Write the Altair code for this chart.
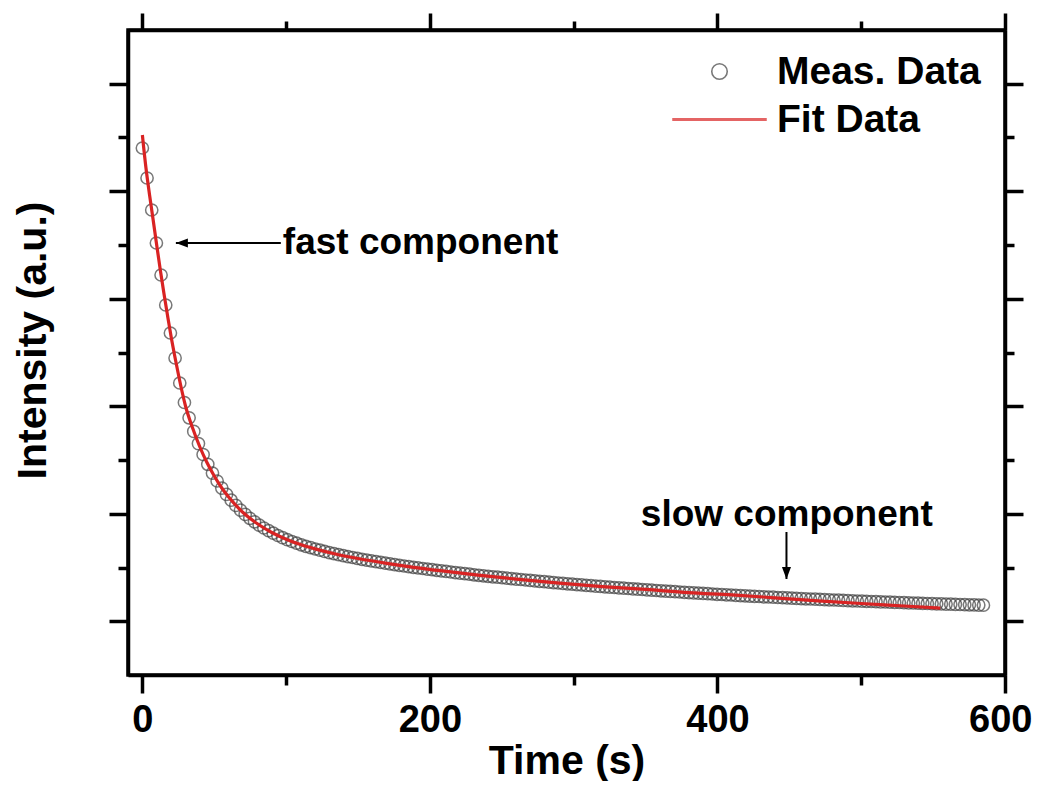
import altair as alt
import pandas as pd

FONT = "Liberation Sans"

# ---- measured data (sampled every SAMPLE_STEP seconds), intensity in a.u. ----
SAMPLE_STEP = 3.25
meas_intensity = [
    527, 497, 465, 432, 400, 370, 342, 317, 292, 272.5,
    257.2, 243.6, 231.4, 220.5, 210.7, 201.9, 194.0, 186.9, 180.6, 174.8,
    169.6, 164.9, 160.6, 156.7, 153.2, 149.9, 147.0, 144.3, 141.8, 139.5,
    137.3, 135.4, 133.5, 131.8, 130.2, 128.7, 127.3, 126.0, 124.8, 123.6,
    122.4, 121.3, 120.3, 119.3, 118.4, 117.5, 116.6, 115.7, 114.9, 114.1,
    113.3, 112.6, 111.8, 111.1, 110.4, 109.7, 109.0, 108.4, 107.7, 107.1,
    106.5, 105.9, 105.3, 104.7, 104.1, 103.6, 103.0, 102.4, 101.9, 101.4,
    100.8, 100.2, 99.7, 99.2, 98.7, 98.2, 97.8, 97.3, 96.8, 96.4,
    95.9, 95.5, 95.0, 94.6, 94.1, 93.7, 93.3, 92.9, 92.4, 92.0,
    91.6, 91.2, 90.8, 90.4, 90.1, 89.7, 89.3, 88.9, 88.6, 88.2,
    87.8, 87.5, 87.1, 86.8, 86.5, 86.1, 85.8, 85.5, 85.1, 84.8,
    84.5, 84.2, 83.9, 83.6, 83.3, 83.0, 82.7, 82.4, 82.1, 81.8,
    81.6, 81.3, 81.0, 80.7, 80.5, 80.2, 80.0, 79.7, 79.4, 79.2,
    78.9, 78.7, 78.5, 78.2, 78.0, 77.8, 77.5, 77.3, 77.1, 76.9,
    76.6, 76.4, 76.2, 76.0, 75.8, 75.6, 75.4, 75.2, 75.0, 74.8,
    74.6, 74.4, 74.2, 74.0, 73.9, 73.7, 73.5, 73.3, 73.1, 73.0,
    72.8, 72.6, 72.5, 72.3, 72.1, 72.0, 71.8, 71.7, 71.5, 71.4,
    71.2, 71.1, 70.9, 70.8, 70.6, 70.5, 70.3, 70.2, 70.1, 69.9,
    69.8,
]
meas_time = [i * SAMPLE_STEP for i in range(len(meas_intensity))]

# ---- fit curve ----
fit_time = [0, 2.5, 5, 7.5, 10, 12.5, 15, 17.5, 20, 22.5, 25, 27.5, 30, 35, 40,
            45, 50, 55, 60, 70, 80, 90, 100, 110, 120, 135, 150, 170, 190, 210,
            235, 260, 290, 320, 350, 380, 410, 440, 470, 500, 530, 555]
fit_intensity = [540, 507, 480, 455, 429.5, 404.8, 381.4, 359.4, 338.2, 319, 301,
                 284, 269, 246.7, 228, 212.2, 199, 187.5, 177.9, 162.5, 151.2,
                 142.5, 135.8, 130.4, 126.1, 120.8, 116.5, 111.6, 107.4, 103.8,
                 99.6, 95.9, 91.9, 88.4, 85.6, 82.4, 80.1, 77.2, 74.2, 71.5, 69.0,
                 66.8]

series_names = ["Meas. Data", "Fit Data"]
x_tick_values = [0, 100, 200, 300, 400, 500, 600]
y_tick_values = [53.75, 107.5, 161.25, 215, 268.75, 322.5, 376.25, 430, 483.75,
                 537.5, 591.25]

# annotations
fast_label = ["fast component"]
fast_label_pos = [(97.7, 432)]
fast_arrow = [(96.3, 23.3, 432)]          # x from, x to (tip), y
slow_label = ["slow component"]
slow_label_pos = [(448.2, 160)]
slow_arrow = [(448, 143, 96)]             # x, y from, y to (tip)

df_meas = pd.DataFrame({"time": meas_time, "intensity": meas_intensity,
                        "series": series_names[0]})
df_fit = pd.DataFrame({"time": fit_time, "intensity": fit_intensity})

x_scale = alt.Scale(domain=[-10, 600], nice=False, zero=False)
y_scale = alt.Scale(domain=[0, 645], nice=False, zero=False)

common_axis = dict(tickColor="black", tickWidth=3.5, domainColor="black",
                   domainWidth=3.5, grid=False)

x_bottom = alt.Axis(
    orient="bottom", values=x_tick_values, title="Time (s)",
    labelExpr="datum.value % 200 === 0 ? datum.label : ''",
    tickSize={"condition": {"test": "datum.value % 200 === 0", "value": 18}, "value": 10},
    labelFont=FONT, labelFontSize=38, labelFontWeight="bold", labelColor="black",
    labelPadding=8, labelFlush=1, labelFlushOffset=27, labelOverlap=False,
    titleFont=FONT, titleFontSize=41, titleFontWeight="bold", titleColor="black",
    titlePadding=2, **common_axis)
x_top = alt.Axis(
    orient="top", values=x_tick_values, title=None, labels=False,
    tickSize={"condition": {"test": "datum.value % 200 === 0", "value": 17}, "value": 9},
    **common_axis)
y_left = alt.Axis(
    orient="left", values=y_tick_values, title="Intensity (a.u.)", labels=False,
    tickSize={"condition": {"test": "round(datum.value / 53.75) % 2 === 1", "value": 19},
              "value": 10},
    titleFont=FONT, titleFontSize=41, titleFontWeight="bold", titleColor="black",
    titlePadding=53, titleY=310, **common_axis)
y_right = alt.Axis(
    orient="right", values=y_tick_values, title=None, labels=False,
    tickSize={"condition": {"test": "round(datum.value / 53.75) % 2 === 1", "value": 18},
              "value": 9},
    **common_axis)

legend = alt.Legend(
    title=None, orient="none", legendX=572, legendY=22, padding=0,
    labelFont=FONT, labelFontSize=39, labelFontWeight="bold", labelColor="black",
    labelLimit=500, symbolSize=240, labelOffset=38, rowPadding=8,
    symbolStrokeWidth=alt.ExprRef(expr="datum.value === 'Fit Data' ? 3 : 1.6"))

points = alt.Chart(df_meas).mark_point(filled=False, size=150, strokeWidth=1.5).encode(
    x=alt.X("time:Q", scale=x_scale, axis=x_bottom),
    y=alt.Y("intensity:Q", scale=y_scale, axis=y_left),
    color=alt.Color("series:N", scale=alt.Scale(domain=series_names,
                                                range=["#404040", "#d92323"]),
                    legend=legend),
    shape=alt.Shape("series:N", scale=alt.Scale(domain=series_names,
                                                range=["circle", "M-6.1,0H6.1"]),
                    legend=legend),
)

fit = alt.Chart(df_fit).mark_line(color="#d92323", strokeWidth=3.2,
                                  interpolate="monotone").encode(
    x=alt.X("time:Q", scale=x_scale, axis=x_top),
    y=alt.Y("intensity:Q", scale=y_scale, axis=y_right),
)

df_fast_txt = pd.DataFrame({"time": [p[0] for p in fast_label_pos],
                            "intensity": [p[1] for p in fast_label_pos],
                            "label": fast_label})
df_slow_txt = pd.DataFrame({"time": [p[0] for p in slow_label_pos],
                            "intensity": [p[1] for p in slow_label_pos],
                            "label": slow_label})
txt_style = dict(font=FONT, fontSize=37, fontWeight="bold", color="black",
                 baseline="middle")
fast_txt = alt.Chart(df_fast_txt).mark_text(align="left", **txt_style).encode(
    x=alt.X("time:Q", scale=x_scale, axis=None),
    y=alt.Y("intensity:Q", scale=y_scale, axis=None),
    text="label:N")
slow_txt = alt.Chart(df_slow_txt).mark_text(align="center", **txt_style).encode(
    x=alt.X("time:Q", scale=x_scale, axis=None),
    y=alt.Y("intensity:Q", scale=y_scale, axis=None),
    text="label:N")

df_fast_arrow = pd.DataFrame({"x1": [a[0] for a in fast_arrow], "x2": [a[1] for a in fast_arrow],
                              "y": [a[2] for a in fast_arrow]})
df_slow_arrow = pd.DataFrame({"x": [a[0] for a in slow_arrow], "y1": [a[1] for a in slow_arrow],
                              "y2": [a[2] for a in slow_arrow]})
fast_line = alt.Chart(df_fast_arrow).mark_rule(color="black", strokeWidth=2).encode(
    x=alt.X("x1:Q", scale=x_scale, axis=None), x2="x2:Q",
    y=alt.Y("y:Q", scale=y_scale, axis=None))
fast_head = alt.Chart(df_fast_arrow).mark_point(
    shape="M0,0L2,-0.75L2,0.75Z", filled=True, color="black", size=144, opacity=1).encode(
    x=alt.X("x2:Q", scale=x_scale, axis=None),
    y=alt.Y("y:Q", scale=y_scale, axis=None))
slow_line = alt.Chart(df_slow_arrow).mark_rule(color="black", strokeWidth=2).encode(
    x=alt.X("x:Q", scale=x_scale, axis=None),
    y=alt.Y("y1:Q", scale=y_scale, axis=None), y2="y2:Q")
slow_head = alt.Chart(df_slow_arrow).mark_point(
    shape="M0,0L-0.75,-2L0.75,-2Z", filled=True, color="black", size=144, opacity=1).encode(
    x=alt.X("x:Q", scale=x_scale, axis=None),
    y=alt.Y("y2:Q", scale=y_scale, axis=None))

chart = alt.layer(points, fit, fast_txt, slow_txt, fast_line, fast_head,
                  slow_line, slow_head).resolve_axis(
    x="independent", y="independent"
).properties(
    width=877, height=645,
    padding={"left": 120, "top": 22, "right": 28, "bottom": 106},
    autosize=alt.AutoSizeParams(type="none"),
    background="white",
).configure_view(stroke="black", strokeWidth=3.5)

chart.save("out.html", embed_options={"renderer": "svg", "actions": False})
